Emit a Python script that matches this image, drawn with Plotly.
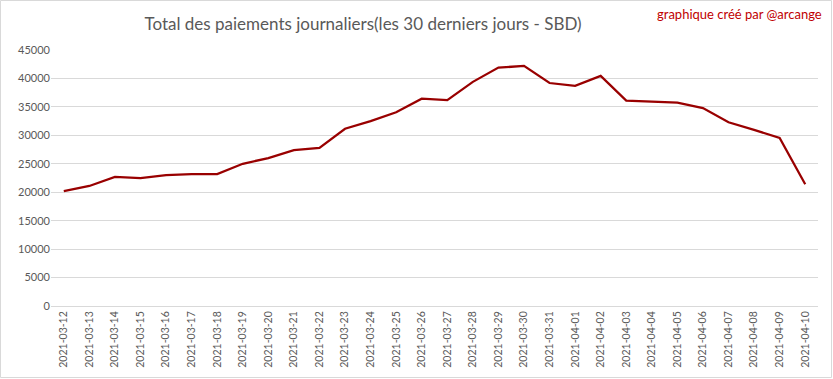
import plotly.graph_objects as go

dates = ["2021-03-12","2021-03-13","2021-03-14","2021-03-15","2021-03-16","2021-03-17",
         "2021-03-18","2021-03-19","2021-03-20","2021-03-21","2021-03-22","2021-03-23",
         "2021-03-24","2021-03-25","2021-03-26","2021-03-27","2021-03-28","2021-03-29",
         "2021-03-30","2021-03-31","2021-04-01","2021-04-02","2021-04-03","2021-04-04",
         "2021-04-05","2021-04-06","2021-04-07","2021-04-08","2021-04-09","2021-04-10"]
payouts = [20200, 21100, 22700, 22500, 23000, 23200,
           23200, 25000, 26000, 27400, 27800, 31150,
           32500, 34050, 36450, 36200, 39400, 41900,
           42200, 39200, 38700, 40450, 36100, 35900,
           35750, 34800, 32300, 30950, 29550, 21400]

W, H = 833, 379
L, R, T, B = 51, 15, 50, 73
pw, ph = W - L - R, H - T - B

fig = go.Figure()
fig.add_trace(go.Scatter(x=dates, y=payouts, mode="lines",
                         line=dict(color="#990000", width=2.25), hoverinfo="x+y"))

font = "Lato, 'Open Sans', sans-serif"
fig.update_layout(
    width=W, height=H, margin=dict(l=L, r=R, t=T, b=B, autoexpand=False),
    paper_bgcolor="white", plot_bgcolor="white", showlegend=False,
    font=dict(family=font, color="#595959", size=11),
    title=dict(text="Total des paiements journaliers(les 30 derniers jours - SBD)",
               x=363 / W, xanchor="center", y=1 - 24 / H, yanchor="middle",
               font=dict(family=font, size=17, color="#595959")),
    xaxis=dict(type="category", range=[-0.5, len(dates) - 0.5], tickangle=-90,
               automargin=False,
               showgrid=False, showline=True, linecolor="#d9d9d9", linewidth=1,
               ticks="", tickfont=dict(size=10.5, color="#595959")),
    yaxis=dict(range=[0, 45000], dtick=5000, tickformat="d", showgrid=True,
               automargin=False,
               gridcolor="#d9d9d9", gridwidth=1, zeroline=False, showline=False,
               ticks="", tickfont=dict(size=11, color="#595959")),
    annotations=[dict(text="graphique créé par @arcange", xref="paper", yref="paper",
                      x=1 + (R - 9) / pw, xanchor="right", y=1 + (T - 14) / ph,
                      yanchor="middle", showarrow=False,
                      font=dict(family=font, size=13, color="#c00000"))],
    shapes=[dict(type="rect", xref="paper", yref="paper",
                 x0=-(L - 0.5) / pw, x1=1 + (R - 1.5) / pw,
                 y0=-(B - 1.5) / ph, y1=1 + (T - 0.5) / ph,
                 line=dict(color="#d9d9d9", width=1), layer="below")],
)
fig.write_html("out.html", config={"displayModeBar": False},
               post_script="document.body.style.margin='0';document.body.style.overflow='hidden';")
